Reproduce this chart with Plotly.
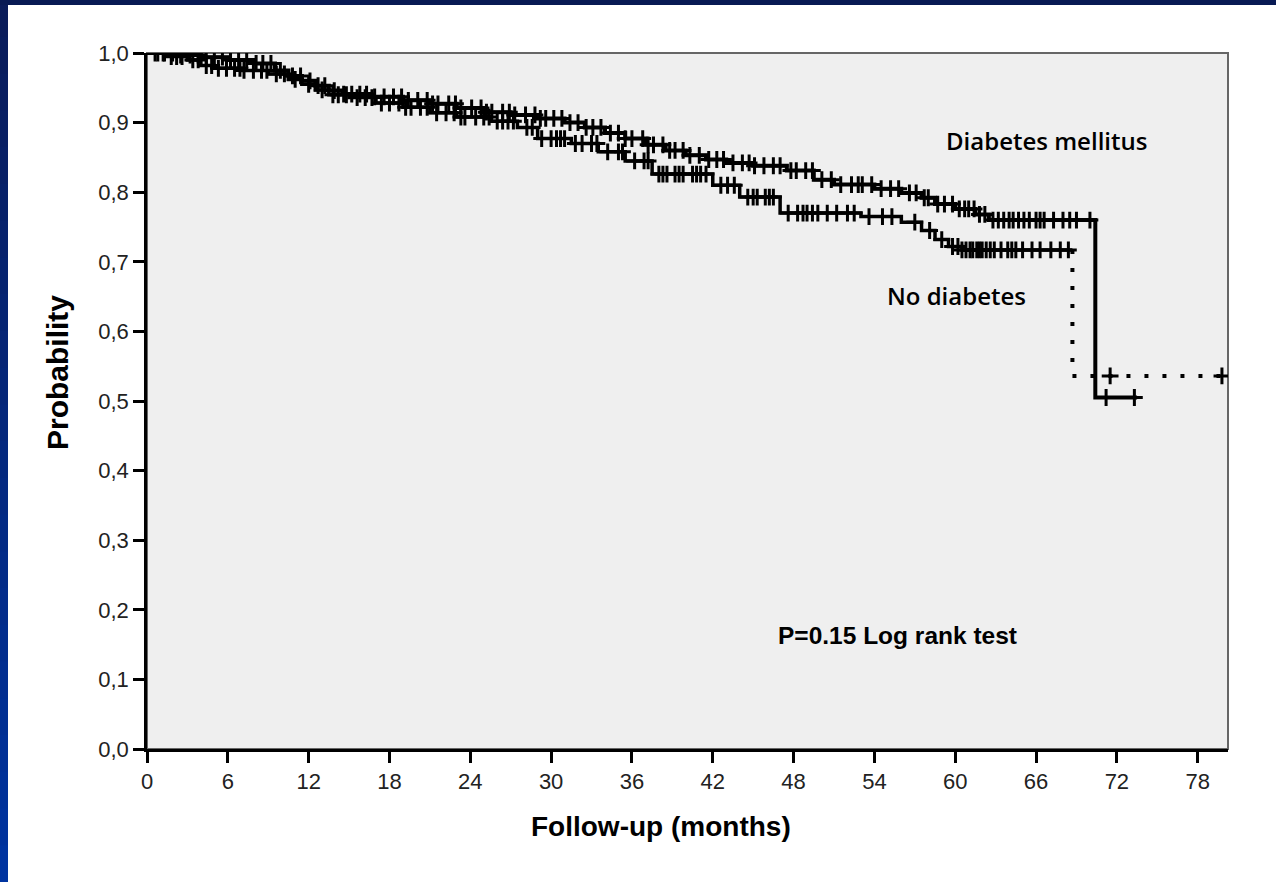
import numpy as np
import plotly.graph_objects as go

# ---------------- data ----------------
x_ticks = [0, 6, 12, 18, 24, 30, 36, 42, 48, 54, 60, 66, 72, 78]
y_ticks = [0.0, 0.1, 0.2, 0.3, 0.4, 0.5, 0.6, 0.7, 0.8, 0.9, 1.0]
y_tick_labels = ["0,0", "0,1", "0,2", "0,3", "0,4", "0,5", "0,6", "0,7", "0,8", "0,9", "1,0"]

# Diabetes mellitus (solid)
dm_time = [0, 2, 4, 6, 8, 9.5, 10.5, 11.5, 12.5, 13.5, 14.5, 16.5, 19, 21, 23, 25, 27, 29,
           31, 32.5, 34, 35.5, 37, 38.5, 40, 41.5, 43, 45, 47.5, 49.5, 51, 54, 56, 57.5,
           58.5, 60, 61.5, 62.5, 70.4]
dm_surv = [1.0, 0.997, 0.994, 0.99, 0.985, 0.975, 0.967, 0.96, 0.953, 0.946, 0.941, 0.937,
           0.932, 0.927, 0.921, 0.915, 0.911, 0.906, 0.900, 0.893, 0.885, 0.877, 0.868,
           0.860, 0.853, 0.847, 0.842, 0.838, 0.831, 0.818, 0.811, 0.805, 0.799, 0.792,
           0.783, 0.776, 0.768, 0.760, 0.505]
dm_end = 73.5
dm_censor = [0.6, 1.2, 1.9, 2.5, 3.2, 3.8, 4.4, 5.0, 5.6, 6.2, 6.8, 7.4, 8.1, 8.6, 9.2, 9.9,
             10.8, 11.4, 12.1, 12.7, 13.2, 13.9, 14.6, 15.2, 15.8, 16.3, 16.9, 17.6, 18.3,
             18.9, 19.4, 20.1, 20.8, 21.2, 21.6, 22.4, 22.9, 23.3, 24.1, 24.8, 25.2, 25.6,
             26.4, 26.9, 27.3, 28.1, 28.8, 29.2, 29.6, 30.2, 30.8, 31.4, 32.0, 32.6, 33.1,
             33.7, 34.4, 35.0, 35.5, 36.0, 36.8, 37.2, 37.6, 38.3, 38.8, 39.2, 39.8, 40.3,
             41.0, 41.7, 42.3, 42.8, 43.5, 44.2, 44.7, 45.1, 45.8, 46.5, 47.0, 47.8, 48.2,
             48.9, 49.4, 50.1, 50.8, 51.5, 52.3, 52.8, 53.1, 53.8, 54.5, 55.2, 55.8, 56.6,
             57.1, 57.7, 58.0, 58.7, 59.2, 59.8, 60.3, 60.7, 61.0, 61.4, 61.8, 62.2, 62.8,
             63.2, 63.6, 64.0, 64.3, 64.7, 65.1, 65.5, 66.0, 66.3, 66.6, 67.3, 68.0, 68.5,
             69.0, 70.0, 71.2, 73.3]

# No diabetes (dotted at the end)
nd_time = [0, 1.5, 3, 4, 5, 7, 9, 10.5, 11.5, 12.5, 13.5, 15, 17, 19, 21, 23, 25.5, 27.5,
           29, 31.5, 33.5, 35.5, 37.5, 42, 44, 47, 53, 56, 57.5, 58.5, 59.5, 60.5, 68.7]
nd_surv = [1.0, 0.995, 0.99, 0.982, 0.978, 0.975, 0.97, 0.962, 0.955, 0.947, 0.94, 0.936,
           0.928, 0.922, 0.914, 0.908, 0.902, 0.893, 0.877, 0.87, 0.858, 0.845, 0.826,
           0.81, 0.793, 0.77, 0.765, 0.757, 0.745, 0.732, 0.722, 0.717, 0.536]
nd_end = 80.0
nd_censor = [0.8, 1.3, 1.8, 2.2, 2.6, 3.4, 3.8, 4.4, 4.8, 5.3, 5.9, 6.5, 6.9, 7.2, 7.9, 8.5,
             8.9, 9.6, 10.2, 11.0, 12.0, 13.0, 13.8, 14.2, 14.8, 15.6, 16.2, 16.7, 17.4,
             18.0, 18.7, 19.2, 19.6, 20.3, 20.8, 21.5, 22.2, 22.8, 23.3, 23.6, 24.4, 25.0,
             25.4, 26.0, 26.4, 26.8, 27.2, 28.2, 28.6, 29.3, 30.0, 30.4, 30.7, 31.0, 31.8,
             32.3, 33.0, 33.4, 34.2, 35.0, 35.3, 36.2, 36.9, 37.2, 38.0, 38.3, 38.6, 39.2,
             39.5, 39.8, 40.5, 40.8, 41.1, 41.5, 42.6, 43.1, 43.6, 44.6, 45.0, 45.3, 45.9,
             46.2, 46.5, 47.6, 48.3, 48.7, 49.0, 49.4, 49.8, 50.5, 51.2, 52.0, 52.5, 53.6,
             54.6, 55.3, 57.0, 58.1, 59.0, 59.8, 60.2, 60.5, 60.8, 61.1, 61.3, 61.6, 61.8,
             62.0, 62.3, 62.6, 62.9, 63.4, 63.9, 64.2, 64.5, 65.0, 65.7, 66.3, 67.1, 67.8,
             68.4, 71.5, 79.8]


def surv_at(times, surv, t):
    idx = np.searchsorted(np.asarray(times), np.asarray(t), side="right") - 1
    return np.asarray(surv)[idx]


FONT = "Liberation Sans, Arial, sans-serif"
CROSS = dict(symbol="cross-thin", size=12, line=dict(color="black", width=3))
fig = go.Figure()

# Diabetes mellitus solid curve
fig.add_trace(go.Scatter(
    x=dm_time + [dm_end], y=dm_surv + [dm_surv[-1]],
    mode="lines", line=dict(color="black", width=4, shape="hv"), hoverinfo="skip"))
fig.add_trace(go.Scatter(
    x=dm_censor, y=surv_at(dm_time, dm_surv, dm_censor),
    mode="markers", marker=CROSS, hoverinfo="skip"))

# No diabetes: solid part then dotted tail
fig.add_trace(go.Scatter(
    x=nd_time[:-1] + [nd_time[-1]], y=nd_surv[:-1] + [nd_surv[-2]],
    mode="lines", line=dict(color="black", width=3.5, shape="hv"), hoverinfo="skip"))
fig.add_trace(go.Scatter(
    x=[nd_time[-1], nd_time[-1], nd_end], y=[nd_surv[-2], nd_surv[-1], nd_surv[-1]],
    mode="lines", line=dict(color="black", width=4, dash="4px,14px"), hoverinfo="skip"))
fig.add_trace(go.Scatter(
    x=nd_censor, y=surv_at(nd_time, nd_surv, nd_censor),
    mode="markers", marker=CROSS, hoverinfo="skip"))

# ---------------- decorations ----------------
shapes = []
shapes.append(dict(type="rect", xref="paper", yref="paper", x0=0, x1=1, y0=0, y1=1,
                   line=dict(color="#666666", width=2), layer="below"))
W, H, L, R, T, B = 1276, 882, 147, 48, 53, 133
pw, ph = W - L - R, H - T - B
def px_x(p):
    return (p - L) / pw
def px_y(p):
    return (H - B - p) / ph
n = 24
top_c = np.array([10, 28, 90])
bot_c = np.array([0, 52, 160])
for i in range(n):
    f = i / (n - 1)
    c = (top_c * (1 - f) + bot_c * f).astype(int)
    shapes.append(dict(type="rect", xref="paper", yref="paper",
                       x0=px_x(0), x1=px_x(8),
                       y0=px_y(H * (i + 1) / n + 1), y1=px_y(H * i / n),
                       fillcolor=f"rgb({c[0]},{c[1]},{c[2]})", line=dict(width=0), layer="above"))
shapes.append(dict(type="rect", xref="paper", yref="paper",
                   x0=px_x(0), x1=px_x(W), y0=px_y(5), y1=px_y(0),
                   fillcolor="rgb(8,26,84)", line=dict(width=0), layer="above"))

annotations = [
    dict(x=66.74, y=0.8736, xref="x", yref="y", text="Diabetes mellitus", showarrow=False,
         xanchor="center", yanchor="middle",
         font=dict(family="Open Sans, sans-serif", size=24, color="black", weight=600)),
    dict(x=60.13, y=0.651, xref="x", yref="y", text="No diabetes", showarrow=False,
         xanchor="center", yanchor="middle",
         font=dict(family="Open Sans, sans-serif", size=24, color="black", weight=600)),
    dict(x=55.75, y=0.1638, xref="x", yref="y", text="P=0.15 Log rank test", showarrow=False,
         xanchor="center", yanchor="middle",
         font=dict(family=FONT, size=24.5, color="black", weight="bold")),
    dict(x=px_x(661), y=px_y(826), xref="paper", yref="paper", text="Follow-up (months)",
         showarrow=False, xanchor="center", yanchor="middle",
         font=dict(family=FONT, size=28, color="black", weight="bold")),
    dict(x=px_x(57), y=px_y(373), xref="paper", yref="paper", text="Probability",
         showarrow=False, textangle=-90, xanchor="center", yanchor="middle",
         font=dict(family=FONT, size=30, color="black", weight="bold")),
]

fig.update_layout(
    width=W, height=H,
    margin=dict(l=L, r=R, t=T, b=B, pad=0),
    paper_bgcolor="white", plot_bgcolor="#efefef",
    showlegend=False,
    shapes=shapes, annotations=annotations,
    xaxis=dict(range=[0, 80.25], tickvals=x_ticks, ticks="outside", ticklen=11, tickwidth=2.5,
               tickcolor="black", showline=True, linecolor="black", linewidth=2.5,
               showgrid=False, zeroline=False, fixedrange=True,
               tickfont=dict(family=FONT, size=22, color="#222222")),
    yaxis=dict(range=[0, 1.0], tickvals=y_ticks, ticktext=y_tick_labels, ticks="outside",
               ticklen=11, tickwidth=2.5, tickcolor="black", showline=True, linecolor="black",
               linewidth=2.5, showgrid=False, zeroline=False, fixedrange=True,
               tickfont=dict(family=FONT, size=22, color="#222222")),
)

fig.write_html("out.html")
